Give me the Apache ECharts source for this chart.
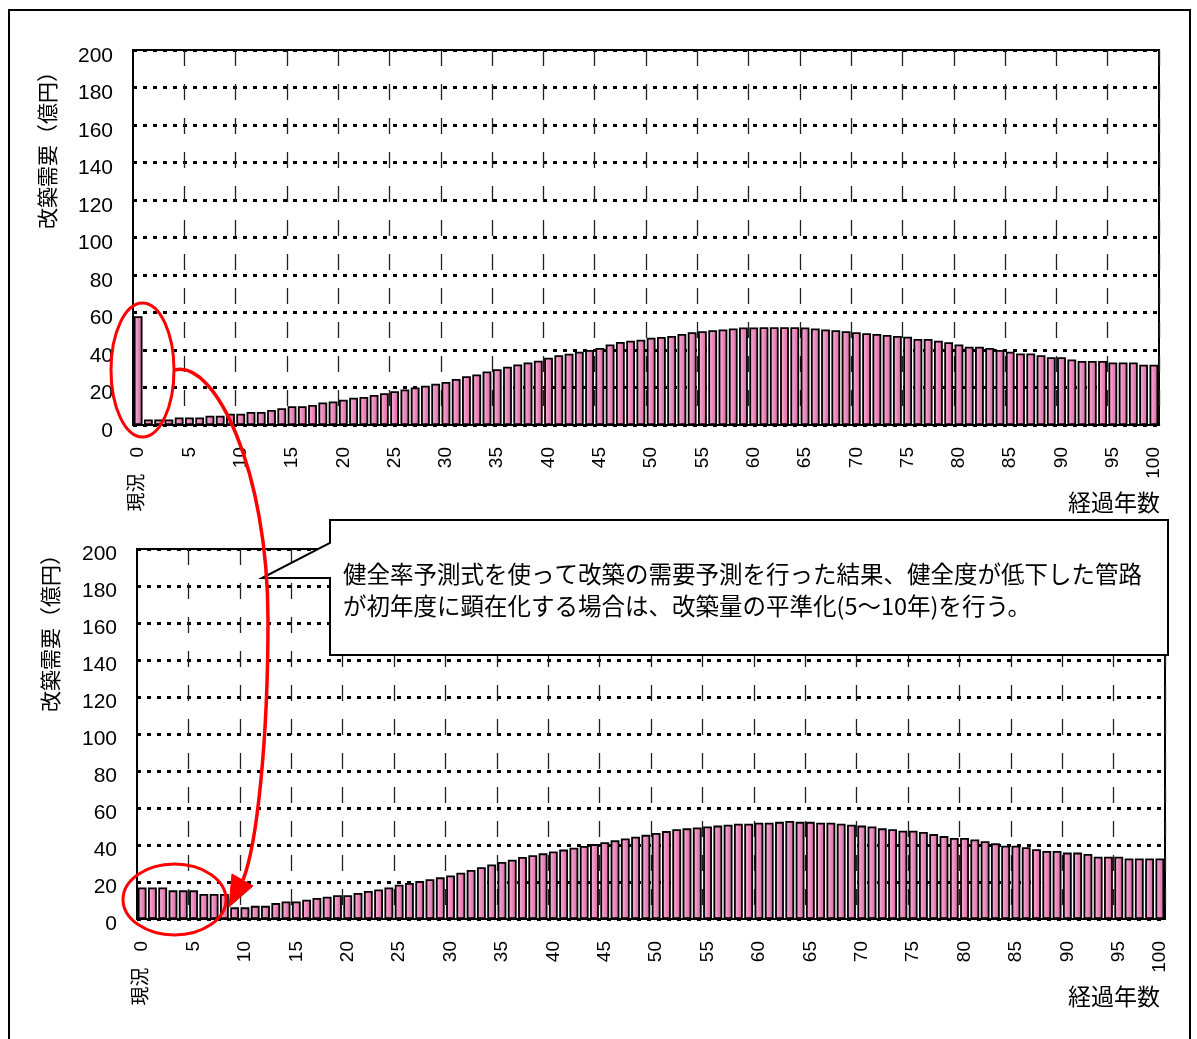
<!DOCTYPE html>
<html>
<head>
<meta charset="utf-8">
<script src="https://cdn.jsdelivr.net/npm/echarts@6/dist/echarts.min.js"></script>
<style>
  html, body { margin: 0; padding: 0; background: #fff; }
  #chart { width: 1197px; height: 1039px; }
</style>
</head>
<body>
<div id="chart"></div>
<script>
// 経過年数の区分（0 = 現況）
const YEARS = Array.from({ length: 100 }, (_, i) => String(i));

// 目盛ラベルを表示する区分と、その文字
const TICK_INDEX = [0, 5, 10, 15, 20, 25, 30, 35, 40, 45, 50, 55, 60, 65, 70, 75, 80, 85, 90, 95, 99];
const TICK_TEXT = ['現況   0', '5', '10', '15', '20', '25', '30', '35', '40', '45', '50',
                   '55', '60', '65', '70', '75', '80', '85', '90', '95', '100'];

// 縦軸の範囲（億円）
const Y_MIN = 0, Y_MAX = 200, Y_STEP = 20;

// 改築需要（億円）：健全率予測式による予測
const DEMAND_FORECAST = [
  58,
  3, 3, 3, 4, 4, 4, 5, 5, 6, 6, 7, 7, 8, 9, 10, 10, 10.7, 12,
  12.5, 13.5, 14.5, 15, 16, 17, 18, 19, 20, 21, 22, 23, 24.5, 26, 27, 28.5,
  29.7, 31.1, 32.3, 33.4, 34.3, 35.9, 37.2, 38, 39.1, 40, 41.1, 43, 44.3,
  45, 45.5, 46.5, 47, 47.5, 48.5, 49.5, 50, 50.5, 51, 51.5, 52, 52, 52.2, 52.2, 52.2, 52.2,
  52, 51.5, 51, 50.5, 50, 49.5, 49, 48.5, 48, 47.5,
  47.1, 45.9, 45.9, 45.0, 44.1, 43.0, 41.8, 41.8, 41.1, 40.0, 39.1, 38.2, 38.2, 37.2,
  36.1, 36.1, 35.0, 34.1, 34.1, 34.1, 33.4, 33.4, 33.4, 32.2, 32.2
];

// 改築需要（億円）：初年度の需要を平準化した後
const DEMAND_LEVELED = [
  17, 17, 17, 15.5, 15.5, 15.5, 13.5, 13.5, 13.5,
  6.3, 6.3, 7.1, 7.1, 8.6, 9.5, 9.5, 10.4, 11.4, 12, 12.9, 12.9, 14.1, 15.2,
  16, 17, 18.5, 19.5, 20.5, 21.5, 22.5, 23.5, 25, 26.5, 28, 29.5, 30.8, 32, 33.5,
  34.5, 35.5, 36.5, 37.5, 38.5, 39.5, 40.5, 41.5, 42.5, 43.5, 44.5, 45.5, 46.5, 47.5, 48.5,
  49, 49.5, 50, 50.5, 51, 51.5, 51.5, 52, 52, 52.5, 53, 52.5, 52.5, 52, 52,
  51.5, 51, 50.5, 50, 49, 48.5,
  47.7, 47.7, 47.0, 45.9, 44.8, 43.8, 43.8, 43.0, 42.0, 40.9, 39.6, 39.6, 38.8, 37.7,
  36.8, 36.8, 35.9, 35.9, 35.2, 33.7, 33.7, 33.7, 32.7, 32.7, 32.7, 32.7
];

const NOTE_LINES = [
  '健全率予測式を使って改築の需要予測を行った結果、健全度が低下した管路',
  'が初年度に顕在化する場合は、改築量の平準化(5〜10年)を行う。'
];

const LATIN = '"Liberation Sans", "Noto Sans CJK JP", sans-serif';
const CJK = '"Noto Sans CJK JP", sans-serif';

const chart = echarts.init(document.getElementById('chart'), null, { renderer: 'canvas' });

const tickLabel = {};
TICK_INDEX.forEach((idx, k) => { tickLabel[idx] = TICK_TEXT[k]; });

function xAxisFor(gridIndex) {
  return {
    type: 'category',
    gridIndex,
    data: YEARS,
    boundaryGap: true,
    axisLine: { show: true, lineStyle: { color: '#000', width: 2 } },
    axisTick: { show: false },
    axisLabel: {
      interval: (i) => tickLabel[i] !== undefined,
      formatter: (v, i) => tickLabel[i] || '',
      rotate: 90,
      margin: 22,
      color: '#000',
      fontSize: 19,
      fontFamily: LATIN
    },
    splitLine: {
      show: true,
      interval: (i) => i > 0 && i % 5 === 0,
      lineStyle: { color: '#222', width: 1.3, type: [16, 18] }
    }
  };
}

// 数値ラベルは目盛線より少し下に置く（空行 + 行高で下げる）
function yAxisFor(gridIndex, lineH) {
  return {
    type: 'value',
    gridIndex,
    min: Y_MIN,
    max: Y_MAX,
    interval: Y_STEP,
    axisLine: { show: false },
    axisTick: { show: false },
    axisLabel: {
      color: '#000', fontSize: 21, margin: 20, fontFamily: LATIN,
      lineHeight: lineH,
      formatter: (v) => '\n' + v
    },
    splitLine: { show: true, lineStyle: { color: '#000', width: 3, type: [4, 6] } }
  };
}

const barFill = new echarts.graphic.LinearGradient(0, 0, 1, 0, [
  { offset: 0, color: '#c85a92' },
  { offset: 0.25, color: '#f4a3cd' },
  { offset: 0.45, color: '#ec8fc0' },
  { offset: 1, color: '#cf6198' }
]);

function barSeries(index, data) {
  return {
    type: 'bar',
    xAxisIndex: index,
    yAxisIndex: index,
    data,
    barCategoryGap: '14%',
    silent: true,
    itemStyle: { color: barFill, borderColor: '#000', borderWidth: 1.8 }
  };
}

const red = '#ff0000';

chart.setOption({
  animation: false,
  backgroundColor: '#fff',
  grid: [
    { left: 133, top: 50, width: 1026, height: 375, show: true, borderColor: '#000', borderWidth: 2 },
    { left: 137, top: 549, width: 1028, height: 370, show: true, borderColor: '#000', borderWidth: 2 }
  ],
  xAxis: [xAxisFor(0), xAxisFor(1)],
  yAxis: [yAxisFor(0, 12), yAxisFor(1, 10)],
  series: [barSeries(0, DEMAND_FORECAST), barSeries(1, DEMAND_LEVELED)],
  graphic: [
    // 外枠
    { type: 'rect', z: 200, silent: true,
      shape: { x: 9, y: 10, width: 1181, height: 1050 },
      style: { fill: null, stroke: '#000', lineWidth: 2 } },
    // 縦軸名
    { type: 'text', z: 60, x: 47, y: 145, rotation: Math.PI / 2,
      style: { text: '改築需要（億円）', font: '21px ' + CJK, fill: '#000', align: 'center', verticalAlign: 'middle' } },
    { type: 'text', z: 60, x: 50, y: 628, rotation: Math.PI / 2,
      style: { text: '改築需要（億円）', font: '21px ' + CJK, fill: '#000', align: 'center', verticalAlign: 'middle' } },
    // 横軸名
    { type: 'text', z: 60, x: 1160, y: 502,
      style: { text: '経過年数', font: '23px ' + CJK, fill: '#000', align: 'right', verticalAlign: 'middle' } },
    { type: 'text', z: 60, x: 1160, y: 996,
      style: { text: '経過年数', font: '23px ' + CJK, fill: '#000', align: 'right', verticalAlign: 'middle' } },
    // 吹き出し
    { type: 'polygon', z: 80, silent: true,
      shape: { points: [[330, 520], [1168, 520], [1168, 655], [330, 655], [330, 578], [262, 578], [330, 543]] },
      style: { fill: '#fff', stroke: '#000', lineWidth: 2 } },
    { type: 'text', z: 81, x: 343, y: 574,
      style: { text: NOTE_LINES[0], font: '23.5px ' + CJK, fill: '#000', align: 'left', verticalAlign: 'middle' } },
    { type: 'text', z: 81, x: 343, y: 606,
      style: { text: NOTE_LINES[1], font: '23.5px ' + CJK, fill: '#000', align: 'left', verticalAlign: 'middle' } },
    // 赤い囲みと矢印
    { type: 'ellipse', z: 100, silent: true,
      shape: { cx: 142.5, cy: 370, rx: 31.5, ry: 67 },
      style: { fill: null, stroke: red, lineWidth: 3 } },
    { type: 'ellipse', z: 100, silent: true,
      shape: { cx: 174.5, cy: 899.5, rx: 51.5, ry: 35.5 },
      style: { fill: null, stroke: red, lineWidth: 3 } },
    { type: 'bezierCurve', z: 100, silent: true,
      shape: { x1: 175, y1: 370, cpx1: 215, cpy1: 360, cpx2: 268, cpy2: 470, x2: 268, y2: 620 },
      style: { fill: null, stroke: red, lineWidth: 3.5 } },
    { type: 'bezierCurve', z: 100, silent: true,
      shape: { x1: 268, y1: 620, cpx1: 268, cpy1: 740, cpx2: 257, cpy2: 845, x2: 243, y2: 880 },
      style: { fill: null, stroke: red, lineWidth: 3.5 } },
    { type: 'polygon', z: 100, silent: true,
      shape: { points: [[229, 907], [232, 874], [253, 886]] },
      style: { fill: red, stroke: red, lineWidth: 1 } }
  ]
});
</script>
</body>
</html>
